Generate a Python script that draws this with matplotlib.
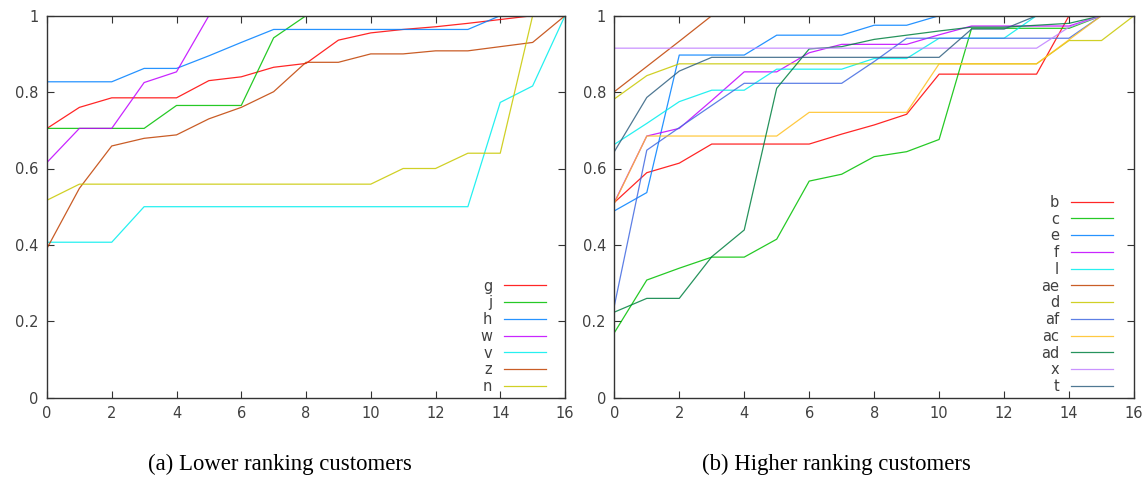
import matplotlib
matplotlib.use("Agg")
import matplotlib.pyplot as plt

steps = list(range(17))

# (a) lower ranking customers
g = [0.705, 0.76, 0.785, 0.785, 0.785, 0.83, 0.84, 0.865, 0.875, 0.936, 0.955, 0.964, 0.971, 0.98, 0.99, 1.0, 1.0]
j = [0.705, 0.705, 0.705, 0.705, 0.765, 0.765, 0.765, 0.942, 1.0, 1.0, 1.0, 1.0, 1.0, 1.0, 1.0, 1.0, 1.0]
h = [0.827, 0.827, 0.827, 0.862, 0.862, 0.895, 0.93, 0.964, 0.964, 0.964, 0.964, 0.964, 0.964, 0.964, 1.0, 1.0, 1.0]
w = [0.616, 0.705, 0.705, 0.825, 0.853, 1.0, 1.0, 1.0, 1.0, 1.0, 1.0, 1.0, 1.0, 1.0, 1.0, 1.0, 1.0]
v = [0.407, 0.407, 0.407, 0.5, 0.5, 0.5, 0.5, 0.5, 0.5, 0.5, 0.5, 0.5, 0.5, 0.5, 0.773, 0.816, 1.0]
z = [0.391, 0.548, 0.659, 0.679, 0.688, 0.73, 0.76, 0.801, 0.878, 0.878, 0.9, 0.9, 0.908, 0.908, 0.919, 0.93, 1.0]
n = [0.517, 0.559, 0.559, 0.559, 0.559, 0.559, 0.559, 0.559, 0.559, 0.559, 0.559, 0.6, 0.6, 0.64, 0.64, 1.0, 1.0]
left_labels = ["g", "j", "h", "w", "v", "z", "n"]
left_series = [g, j, h, w, v, z, n]

# (b) higher ranking customers
b = [0.511, 0.589, 0.614, 0.664, 0.664, 0.664, 0.664, 0.69, 0.714, 0.742, 0.847, 0.847, 0.847, 0.847, 1.0, 1.0, 1.0]
c = [0.17, 0.308, 0.339, 0.368, 0.368, 0.415, 0.567, 0.585, 0.631, 0.644, 0.676, 0.967, 0.967, 0.967, 0.967, 1.0, 1.0]
e = [0.489, 0.537, 0.897, 0.897, 0.897, 0.949, 0.949, 0.949, 0.975, 0.975, 1.0, 1.0, 1.0, 1.0, 1.0, 1.0, 1.0]
f = [0.511, 0.685, 0.705, 0.778, 0.853, 0.853, 0.903, 0.925, 0.925, 0.925, 0.95, 0.973, 0.973, 0.973, 0.973, 1.0, 1.0]
l = [0.663, 0.718, 0.775, 0.805, 0.805, 0.86, 0.86, 0.86, 0.888, 0.888, 0.941, 0.941, 0.941, 1.0, 1.0, 1.0, 1.0]
ae = [0.801, 0.867, 0.933, 1.0, 1.0, 1.0, 1.0, 1.0, 1.0, 1.0, 1.0, 1.0, 1.0, 1.0, 1.0, 1.0, 1.0]
d = [0.782, 0.843, 0.874, 0.874, 0.874, 0.874, 0.874, 0.874, 0.874, 0.874, 0.874, 0.874, 0.874, 0.874, 0.935, 0.935, 1.0]
af = [0.24, 0.648, 0.707, 0.765, 0.823, 0.823, 0.823, 0.823, 0.88, 0.941, 0.941, 0.941, 0.941, 0.941, 0.941, 1.0, 1.0]
ac = [0.509, 0.685, 0.685, 0.685, 0.685, 0.685, 0.747, 0.747, 0.747, 0.747, 0.874, 0.874, 0.874, 0.874, 0.937, 1.0, 1.0]
ad = [0.224, 0.26, 0.26, 0.369, 0.439, 0.81, 0.913, 0.919, 0.938, 0.949, 0.96, 0.97, 0.97, 0.975, 0.98, 1.0, 1.0]
x_ = [0.915, 0.915, 0.915, 0.915, 0.915, 0.915, 0.915, 0.915, 0.915, 0.915, 0.915, 0.915, 0.915, 0.915, 0.97, 1.0, 1.0]
t = [0.644, 0.786, 0.855, 0.891, 0.891, 0.891, 0.891, 0.891, 0.891, 0.891, 0.891, 0.965, 0.965, 1.0, 1.0, 1.0, 1.0]
right_labels = ["b", "c", "e", "f", "l", "ae", "d", "af", "ac", "ad", "x", "t"]
right_series = [b, c, e, f, l, ae, d, af, ac, ad, x_, t]

# gnuplot default line colours
GP = ["#ff0000", "#00c000", "#0080ff", "#c000ff", "#00eeee", "#c04000",
      "#c8c800", "#4169e1", "#ffc020", "#008040", "#c080ff", "#306080"]

fig = plt.figure(figsize=(11.48, 4.82), dpi=100)
ax_a = fig.add_axes([47 / 1148, 1 - 397.7 / 482, 518 / 1148, 382 / 482])
ax_b = fig.add_axes([614.3 / 1148, 1 - 397.7 / 482, 519.7 / 1148, 382 / 482])


def draw(ax, labels, series, leg_x):
  for i, (lab, ys) in enumerate(zip(labels, series)):
    ax.plot(steps, ys, color=GP[i], lw=0.9, alpha=0.85, label=lab)
  ax.set_xlim(0, 16)
  ax.set_ylim(0, 1)
  ax.set_xticks(range(0, 17, 2))
  ax.set_yticks([0, 0.2, 0.4, 0.6, 0.8, 1.0])
  ax.set_yticklabels(["0", "0.2", "0.4", "0.6", "0.8", "1"])
  ax.tick_params(direction="in", length=5, width=0.8, top=True, right=True,
                 labelsize=10.5, labelcolor="#404040", color="#333333", pad=6)
  for sp in ax.spines.values():
    sp.set_color("#333333")
    sp.set_linewidth(1.0)
  leg = ax.legend(loc="lower right", bbox_to_anchor=(leg_x, 0.0), frameon=False,
                  markerfirst=False, fontsize=10.5, handlelength=2.9,
                  handletextpad=0.8, labelspacing=0.12, borderaxespad=0.05,
                  borderpad=0.2)
  for txt in leg.get_texts():
    txt.set_color("#404040")


draw(ax_a, left_labels, left_series, 0.971)
draw(ax_b, right_labels, right_series, 0.967)

fig.text(280 / 1148, 0.037, "(a) Lower ranking customers", ha="center", va="center",
         family="Liberation Serif", fontsize=16.4)
fig.text(836 / 1148, 0.037, "(b) Higher ranking customers", ha="center", va="center",
         family="Liberation Serif", fontsize=16.4)

fig.savefig("out.png", dpi=100)
